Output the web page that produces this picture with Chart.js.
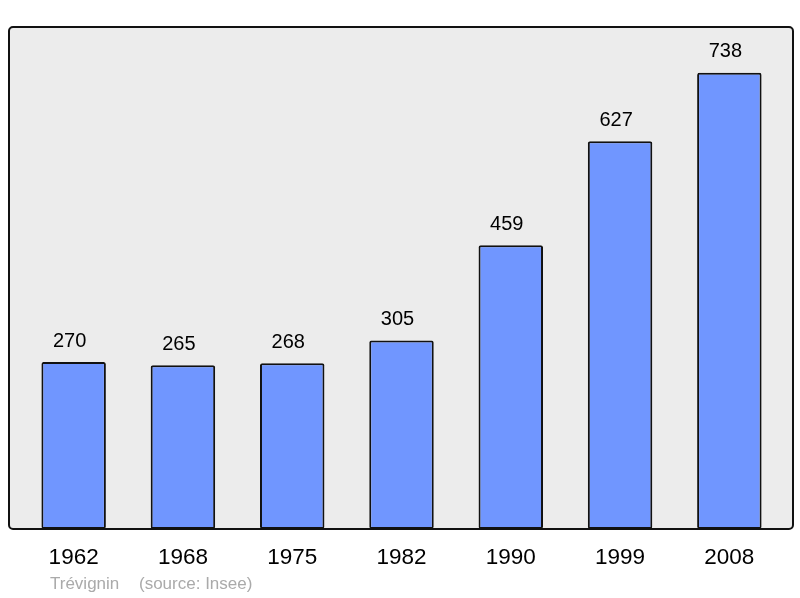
<!DOCTYPE html>
<html><head><meta charset="utf-8">
<script src="https://cdn.jsdelivr.net/npm/chart.js@4/dist/chart.umd.min.js"></script>
<style>html,body{margin:0;padding:0;background:#fff}#wrap{width:800px;height:598px}</style>
</head><body><div id="wrap"><canvas id="c" width="800" height="598"></canvas></div>
<script>
const years = ["1962","1968","1975","1982","1990","1999","2008"];
const population = [270,265,268,305,459,627,738];
const footerName = "Trévignin";
const footerSource = "(source: Insee)";

const framePlugin = {
  id: 'frame',
  beforeDatasetsDraw(chart) {
    const {ctx, chartArea: a} = chart;
    const x0 = a.left - 10, x1 = a.right + 9, y0 = a.top, y1 = a.bottom;
    ctx.save();
    ctx.beginPath();
    ctx.roundRect(x0, y0, x1 - x0, y1 - y0, 4);
    ctx.fillStyle = '#ececec';
    ctx.fill();
    ctx.restore();
  },
  afterDatasetsDraw(chart) {
    const {ctx, chartArea: a} = chart;
    const x0 = a.left - 10, x1 = a.right + 9, y0 = a.top, y1 = a.bottom;
    ctx.save();
    ctx.beginPath();
    ctx.roundRect(x0, y0, x1 - x0, y1 - y0, 4);
    ctx.lineWidth = 2;
    ctx.strokeStyle = '#111';
    ctx.stroke();
    // value labels
    const meta = chart.getDatasetMeta(0);
    ctx.fillStyle = '#000';
    ctx.font = '20px "Liberation Sans", Arial, sans-serif';
    ctx.textAlign = 'center';
    ctx.textBaseline = 'middle';
    meta.data.forEach((bar, i) => {
      ctx.fillText(String(population[i]), bar.x - 4, bar.y - 21);
    });
    // footer
    ctx.fillStyle = '#aaaaaa';
    ctx.font = '17px "Liberation Sans", Arial, sans-serif';
    ctx.textAlign = 'left';
    ctx.fillText(footerName, 50, 584);
    ctx.fillText(footerSource, 139, 584);
    ctx.restore();
  }
};

new Chart(document.getElementById('c'), {
  type: 'bar',
  data: {
    labels: years,
    datasets: [{
      data: population,
      backgroundColor: '#7096ff',
      borderColor: '#111',
      borderWidth: 2,
      borderRadius: 2,
      borderSkipped: false,
      barPercentage: 0.59,
      categoryPercentage: 1
    }]
  },
  options: {
    responsive: false,
    animation: false,
    layout: { padding: { left: 19, right: 16, top: 27, bottom: 12 } },
    plugins: { legend: { display: false }, tooltip: { enabled: false } },
    scales: {
      y: { display: false, min: 0, max: 812 },
      x: {
        grid: { display: false, drawTicks: false },
        border: { display: false },
        ticks: { color: '#000', padding: 15, font: { size: 22.5, family: '"Liberation Sans", Arial, sans-serif' } }
      }
    }
  },
  plugins: [framePlugin]
});
</script></body></html>
